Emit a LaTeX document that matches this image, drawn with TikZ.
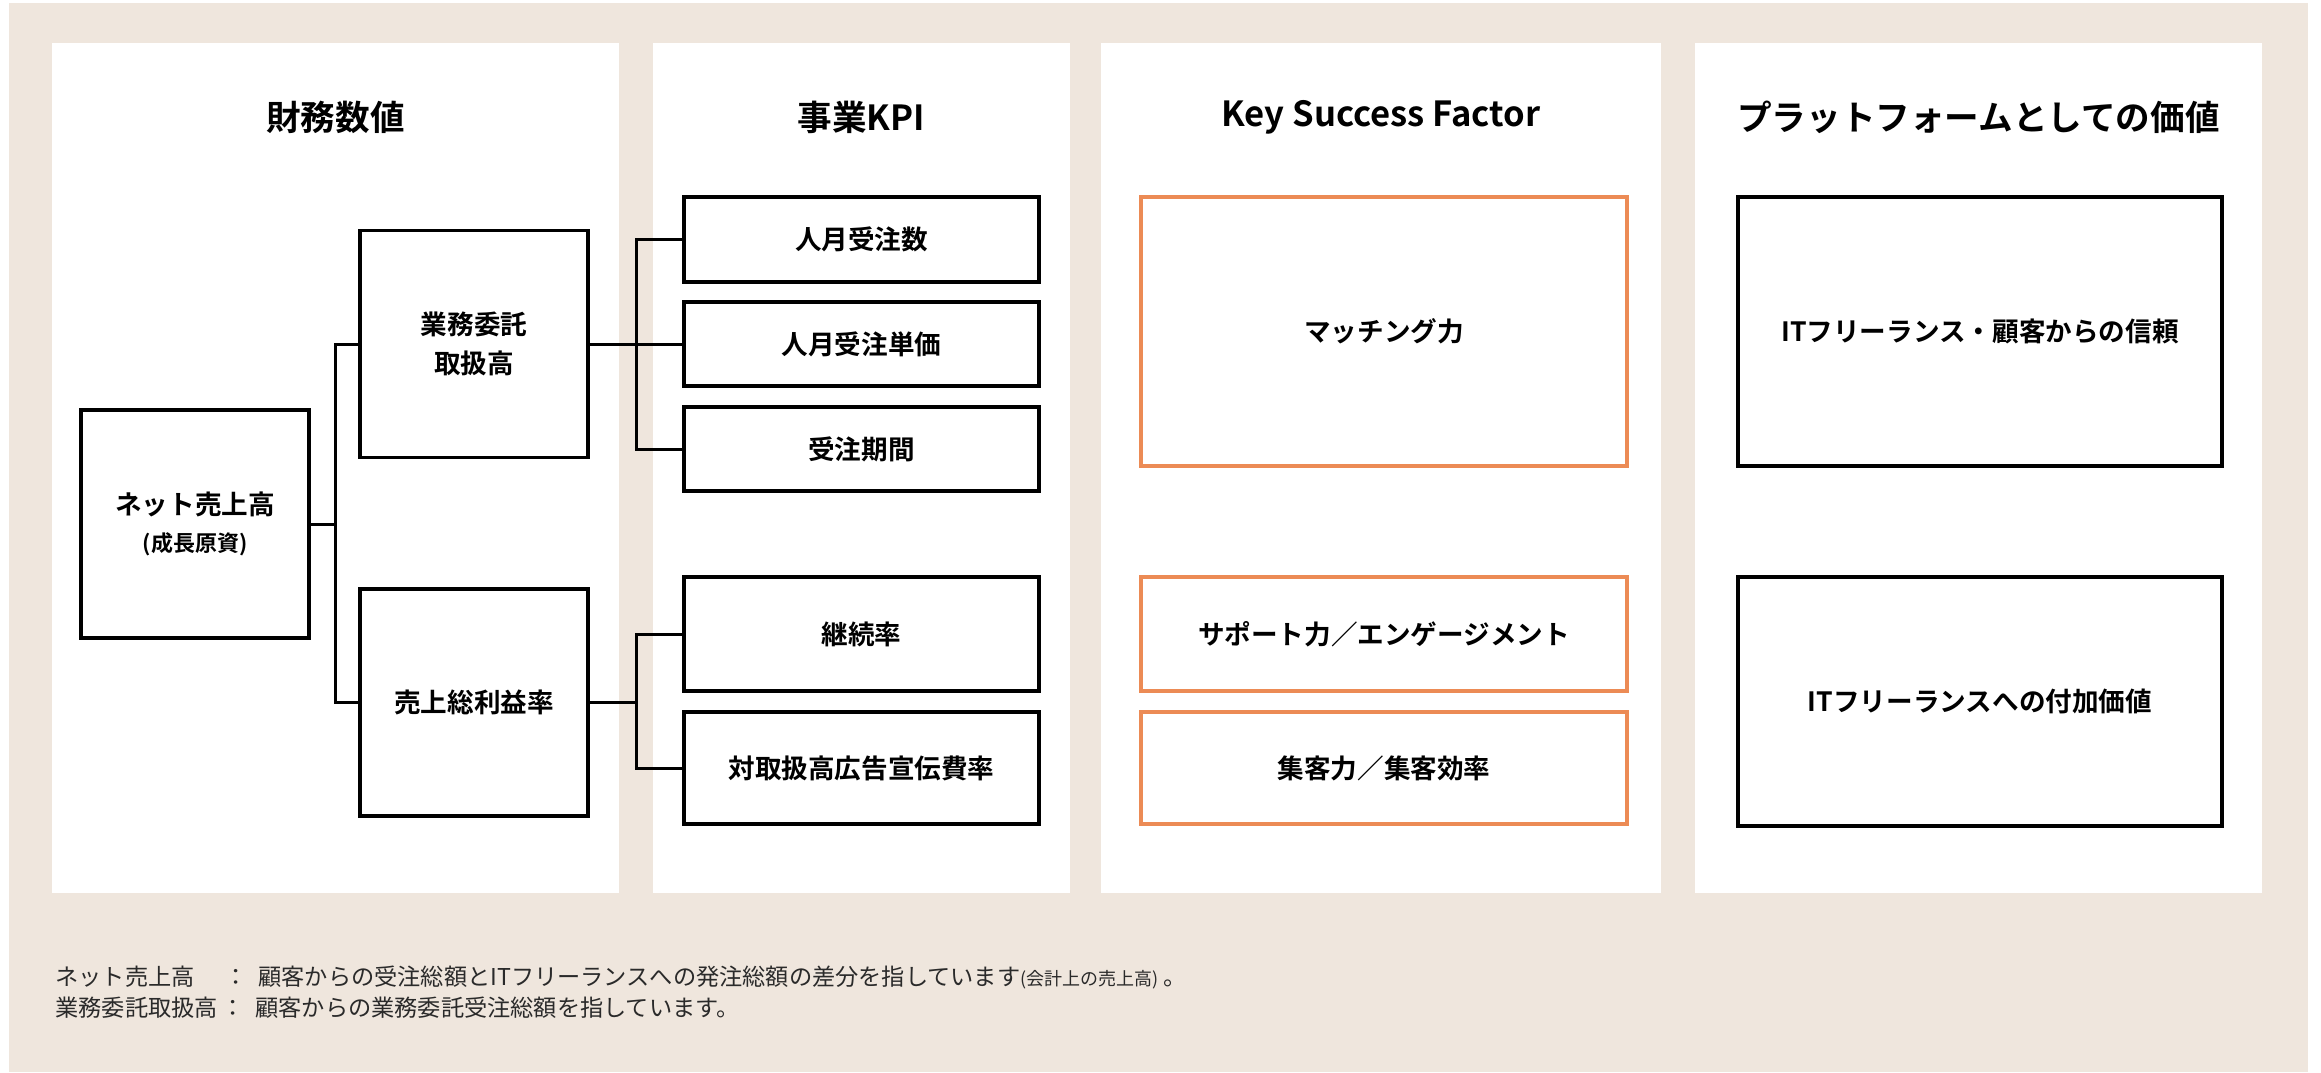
\documentclass[tikz,border=0pt]{standalone}
\usepackage{fontspec}
\setmainfont{Noto Sans CJK JP}[BoldFont={Noto Sans CJK JP Bold}]
\definecolor{bg}{HTML}{EFE6DD}
\definecolor{org}{HTML}{EC8B55}
\definecolor{ftxt}{HTML}{2A2A2A}
\begin{document}
\begin{tikzpicture}[x=0.5pt,y=-0.5pt,
  box/.style={draw=black, line width=1.65pt, fill=white, inner sep=0pt, align=center,
    font=\fontsize{13.3}{19.5}\selectfont\bfseries},
  obox/.style={box, draw=org},
  ttl/.style={inner sep=0pt, font=\fontsize{17.3}{20}\selectfont\bfseries},
  conn/.style={line width=1.5pt},
  foot/.style={inner sep=0pt, anchor=west, text=ftxt, font=\fontsize{11.6}{14}\selectfont},
  panel/.style={fill=white}]
\useasboundingbox (0,0) rectangle (2321,1072);
\fill[white] (0,0) rectangle (2321,1072);
\fill[bg] (9,3) rectangle (2308,1072);
% panels
\fill[panel] (52,43) rectangle (619,893);
\fill[panel] (653,43) rectangle (1070,893);
\fill[panel] (1101,43) rectangle (1661,893);
\fill[panel] (1695,43) rectangle (2262,893);
% titles
\node[ttl] (t1) at (335.5,117) {財務数値};
\node[ttl] (t2) at (861.5,117) {事業KPI};
\node[ttl] (t3) at (1381,117) {Key Success Factor};
\node[ttl] (t4) at (1978.5,117) {プラットフォームとしての価値};
% financial boxes
\node[box, minimum width=114pt, minimum height=114pt] (net) at (195,524)
  {ネット売上高\\[-1pt]{\fontsize{11}{12}\selectfont (成長原資)}};
\node[box, minimum width=114pt, minimum height=113.5pt] (gyomu) at (474,344) {業務委託\\取扱高};
\node[box, minimum width=114pt, minimum height=113.5pt] (uriage) at (474,702.5) {売上総利益率};
% KPI boxes
\node[box, minimum width=177.5pt, minimum height=42.5pt] (k1) at (861.5,239.5) {人月受注数};
\node[box, minimum width=177.5pt, minimum height=42pt] (k2) at (861.5,344) {人月受注単価};
\node[box, minimum width=177.5pt, minimum height=42pt] (k3) at (861.5,449) {受注期間};
\node[box, minimum width=177.5pt, minimum height=57pt] (k4) at (861.5,634) {継続率};
\node[box, minimum width=177.5pt, minimum height=56pt] (k5) at (861.5,768) {対取扱高広告宣伝費率};
% KSF boxes
\node[obox, minimum width=243pt, minimum height=134.5pt] (s1) at (1384,331.5) {マッチング力};
\node[obox, minimum width=243pt, minimum height=57pt] (s2) at (1384,634) {サポート力／エンゲージメント};
\node[obox, minimum width=243pt, minimum height=56pt] (s3) at (1384,768) {集客力／集客効率};
% platform boxes
\node[box, minimum width=242pt, minimum height=134.5pt] (p1) at (1980,331.5) {ITフリーランス・顧客からの信頼};
\node[box, minimum width=242pt, minimum height=124.5pt] (p2) at (1980,701.5) {ITフリーランスへの付加価値};
% connectors
\coordinate (j1) at (335,524);
\coordinate (j2) at (636,344);
\coordinate (j3) at (636,702.5);
\draw[conn] (net.east) -- (j1);
\draw[conn] (j1) |- (gyomu.west);
\draw[conn] (j1) |- (uriage.west);
\draw[conn] (gyomu.east) -- (j2);
\draw[conn] (j2) |- (k1.west);
\draw[conn] (j2) -- (k2.west);
\draw[conn] (j2) |- (k3.west);
\draw[conn] (uriage.east) -- (j3);
\draw[conn] (j3) |- (k4.west);
\draw[conn] (j3) |- (k5.west);
% footnotes
\node[foot] (f1a) at (55,977) {ネット売上高};
\node[foot, anchor=center] (c1) at (236,977) {：};
\node[foot] (f1b) at (258,977) {顧客からの受注総額とITフリーランスへの発注総額の差分を指しています{\fontsize{9}{10}\selectfont (会計上の売上高)}~。};
\node[foot] (f2a) at (55,1008) {業務委託取扱高};
\node[foot, anchor=center] (c2) at (233,1008) {：};
\node[foot] (f2b) at (255,1008) {顧客からの業務委託受注総額を指しています。};
\end{tikzpicture}
\end{document}
